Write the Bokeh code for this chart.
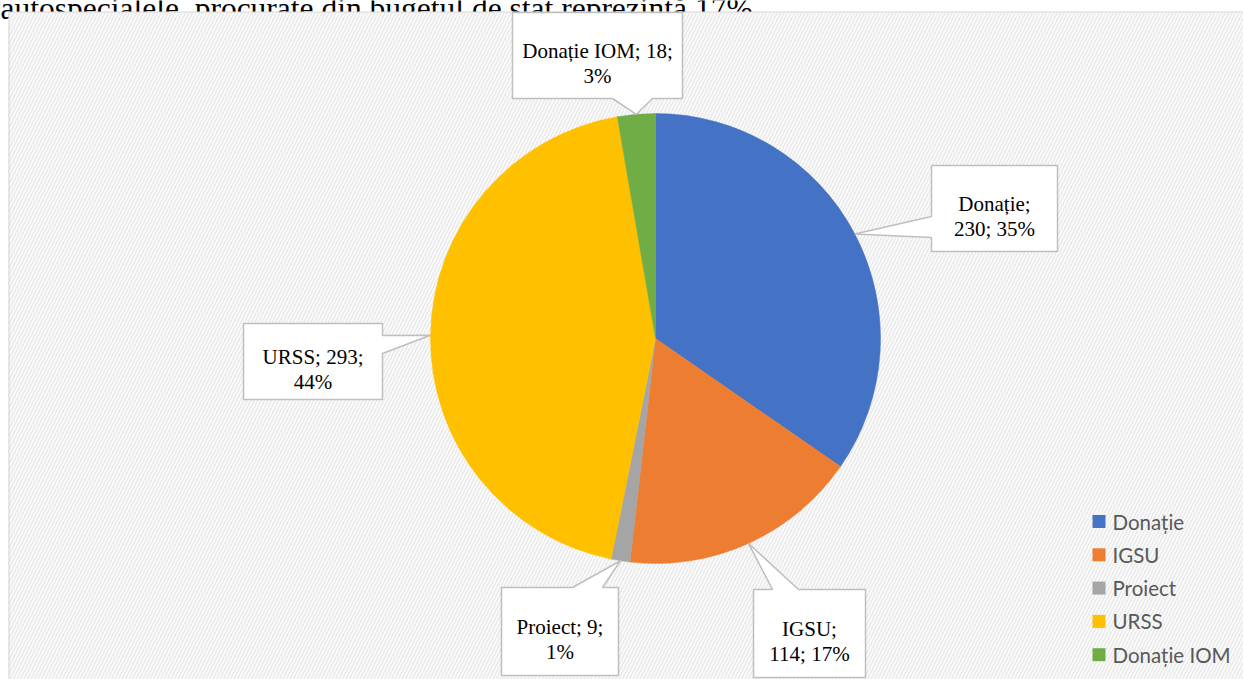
import math
from bokeh.plotting import figure
from bokeh.models import Range1d, ColumnDataSource
from bokeh.core.properties import value
from bokeh.embed import file_html
from bokeh.resources import INLINE

# ---------------- data ----------------
categories = ["Donație", "IGSU", "Proiect", "URSS", "Donație IOM"]
counts = [230, 114, 9, 293, 18]
caption = "autospecialele, procurate din bugetul de stat reprezintă 17%."

# ---------------- style / layout ----------------
colors = ["#4472C4", "#ED7D31", "#A5A5A5", "#FFC000", "#70AD47"]
label_boxes = [(931, 165, 1057, 251), (753, 589, 865, 677), (501, 587, 618, 675),
               (243, 323, 382, 399), (512, 12, 682, 98)]
label_sides = ["left", "top", "top", "right", "bottom"]
label_bases = [(216, 237), (772, 798), (572, 602), (335, 353), (612, 652)]
label_split = [1, 1, 2, 2, 2]

W, H = 1243, 679
PCX, PCY, R = 655, 338, 225  # pie centre / radius in page pixels


def X(px):
    return px


def Y(py):
    return H - py


p = figure(width=W, height=H, output_backend="svg", toolbar_location=None,
           x_range=Range1d(0, W), y_range=Range1d(0, H), min_border=0)
p.axis.visible = False
p.grid.visible = False
p.outline_line_color = None
p.background_fill_color = "white"
p.border_fill_color = "white"

# cut-off caption from the surrounding document
p.text(x=[X(0)], y=[Y(8)], text=[caption], text_font=value("Liberation Serif"),
       text_font_size="31.5px", text_color="black", text_baseline="alphabetic")

# chart area background (hatched)
p.quad(left=[8.5], right=[W + 10], top=[Y(11.5)], bottom=[-20],
       fill_color="#fbfbfb", line_color="#d9d9d9", line_width=1.2,
       hatch_pattern="/", hatch_color="#eaeaea", hatch_weight=1.5, hatch_scale=7)

# pie
total = sum(counts)
starts, ends, mids = [], [], []
cum = 0
for c in counts:
    a0 = math.pi / 2 - 2 * math.pi * cum / total
    cum += c
    a1 = math.pi / 2 - 2 * math.pi * cum / total
    starts.append(a0)
    ends.append(a1)
    mids.append((a0 + a1) / 2)

src = ColumnDataSource(dict(x=[X(PCX)] * len(counts), y=[Y(PCY)] * len(counts),
                            start=starts, end=ends, color=colors))
p.wedge(x="x", y="y", radius=R, start_angle="start", end_angle="end",
        direction="clock", fill_color="color", line_color="color", line_width=0.5,
        source=src)

# callouts
poly_xs, poly_ys = [], []
tx, ty1, ty2, line1, line2 = [], [], [], [], []
for i, (cat, cnt) in enumerate(zip(categories, counts)):
    m = mids[i]
    tip = (PCX + R * math.cos(m), PCY - R * math.sin(m))
    l, t, r, b = label_boxes[i]
    a1, a2 = label_bases[i]
    side = label_sides[i]
    if side == "left":
        pts = [(l, t), (r, t), (r, b), (l, b), (l, a2), tip, (l, a1)]
    elif side == "right":
        pts = [(l, t), (r, t), (r, a1), tip, (r, a2), (r, b), (l, b)]
    elif side == "top":
        pts = [(l, t), (a1, t), tip, (a2, t), (r, t), (r, b), (l, b)]
    else:
        pts = [(l, t), (r, t), (r, b), (a2, b), tip, (a1, b), (l, b)]
    poly_xs.append([X(q[0]) for q in pts])
    poly_ys.append([Y(q[1]) for q in pts])
    pct = round(100 * cnt / total)
    parts = [cat, str(cnt), f"{pct}%"]
    k = label_split[i]
    line1.append("; ".join(parts[:k]) + ";")
    line2.append("; ".join(parts[k:]))
    cy = (t + b) / 2
    tx.append(X((l + r) / 2))
    ty1.append(Y(cy - 5))
    ty2.append(Y(cy + 20))

p.patches(xs=poly_xs, ys=poly_ys, fill_color="white", line_color="#bfbfbf",
          line_width=1.5)
for lines, ys in ((line1, ty1), (line2, ty2)):
    p.text(x=tx, y=ys, text=lines, text_font=value("Liberation Serif"),
           text_font_size="21px", text_color="black", text_align="center",
           text_baseline="alphabetic")

# legend (manual)
leg_y = [521 + 33.3 * i for i in range(len(categories))]
p.rect(x=[X(1098.5)] * len(categories), y=[Y(v) for v in leg_y], width=13, height=13,
       fill_color=colors, line_color=None)
p.text(x=[X(1112)] * len(categories), y=[Y(v) for v in leg_y], text=categories,
       text_font=value("Lato"), text_font_size="20.5px", text_color="#595959",
       text_baseline="middle", text_align="left")

html = file_html(p, INLINE)
html = html.replace("<head>", "<head><style>html,body{overflow:hidden;}</style>", 1)
open("out.html", "w").write(html)
